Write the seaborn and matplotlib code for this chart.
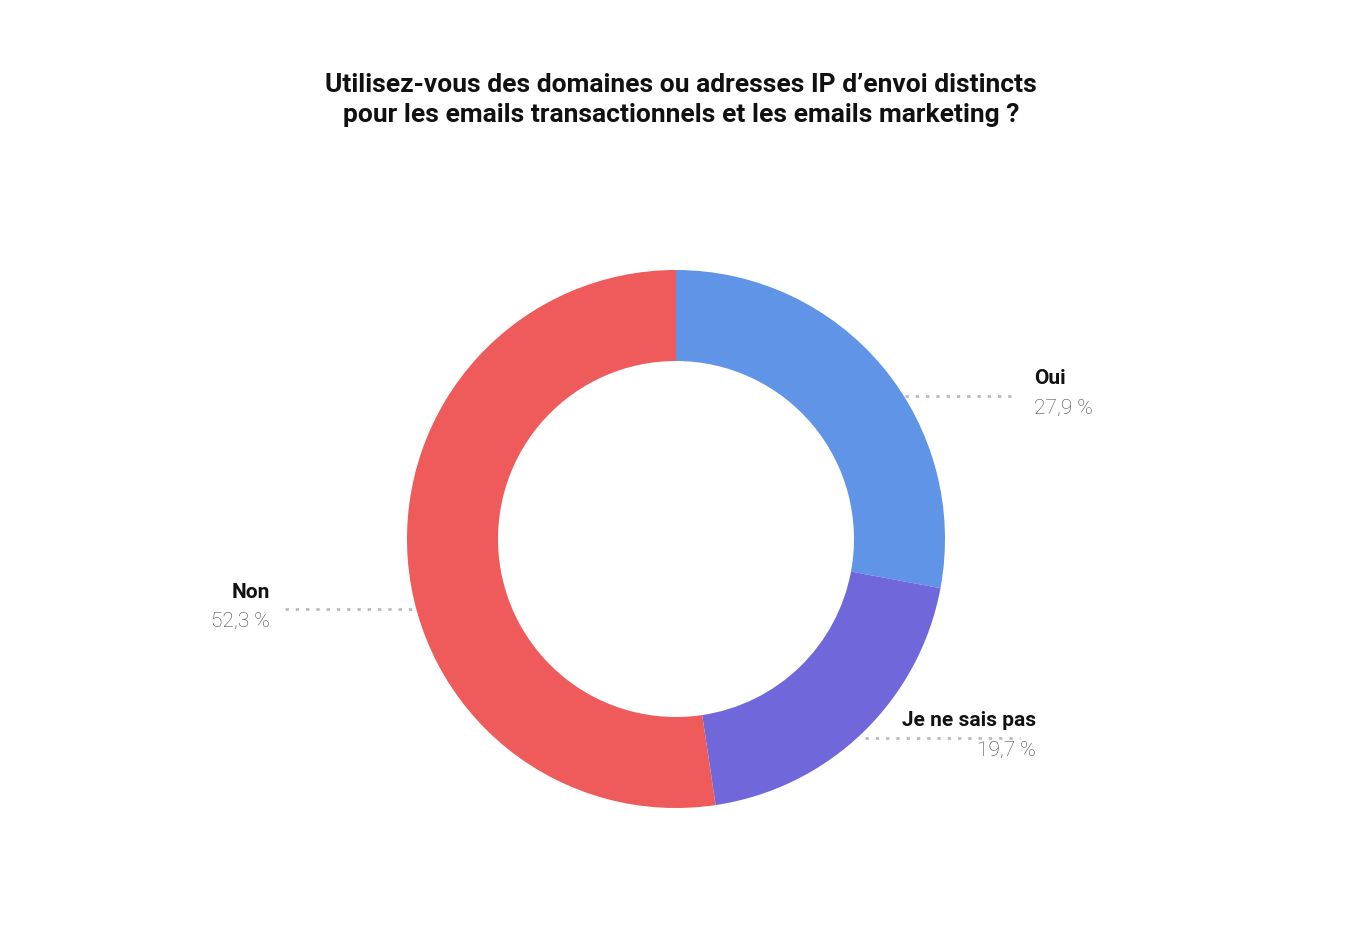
import matplotlib
matplotlib.use("Agg")
import matplotlib.pyplot as plt
import seaborn as sns

categories = ["Oui", "Je ne sais pas", "Non"]
values = [27.9, 19.7, 52.3]
value_labels = ["27,9 %", "19,7 %", "52,3 %"]
colors = ["#6094E6", "#7068DA", "#EF5A5A"]
title = ("Utilisez-vous des domaines ou adresses IP d\u2019envoi distincts\n"
         "pour les emails transactionnels et les emails marketing ?")

sns.set_theme(style="white")
plt.rcParams["font.family"] = ["Roboto", "DejaVu Sans"]

fig = plt.figure(figsize=(13.62, 9.5), dpi=100)
ax = fig.add_axes([0, 0, 1, 1])
ax.set_xlim(0, 1362)
ax.set_ylim(950, 0)
ax.set_aspect("equal")
ax.axis("off")

# pie in flipped y: counterclock=True draws clockwise on screen, start at top
ax.pie(values, colors=colors, startangle=-90, counterclock=True,
       center=(676, 539), radius=269, frame=True,
       wedgeprops=dict(width=91, linewidth=0))
ax.set_xlim(0, 1362)
ax.set_ylim(950, 0)
ax.axis("off")

fig.text(0.5, 1 - 100 / 950, title, ha="center", va="center",
         fontsize=19, fontweight="bold", linespacing=1.3, color="#111111")

# label positions: (line x0, line x1, line y, text x, align)
layout = [(905, 1018, 396, 1034, "left"),
          (865, 1020, 738, 1036, "right"),
          (285, 413, 609, 270, "right")]
for (x0, x1, ly, tx, ha), cat, vl in zip(layout, categories, value_labels):
    ax.plot([x0, x1], [ly, ly], ls=(0, (1.2, 2.5)), color="#BBBBBB", lw=2)
    ax.text(tx, ly - 17, cat, ha=ha, va="center", fontsize=15,
            fontweight="bold", color="#111111")
    ax.text(tx, ly + 12, vl, ha=ha, va="center", fontsize=15,
            fontweight="light", color="#444444")

fig.savefig("out.png", dpi=100, facecolor="white")
